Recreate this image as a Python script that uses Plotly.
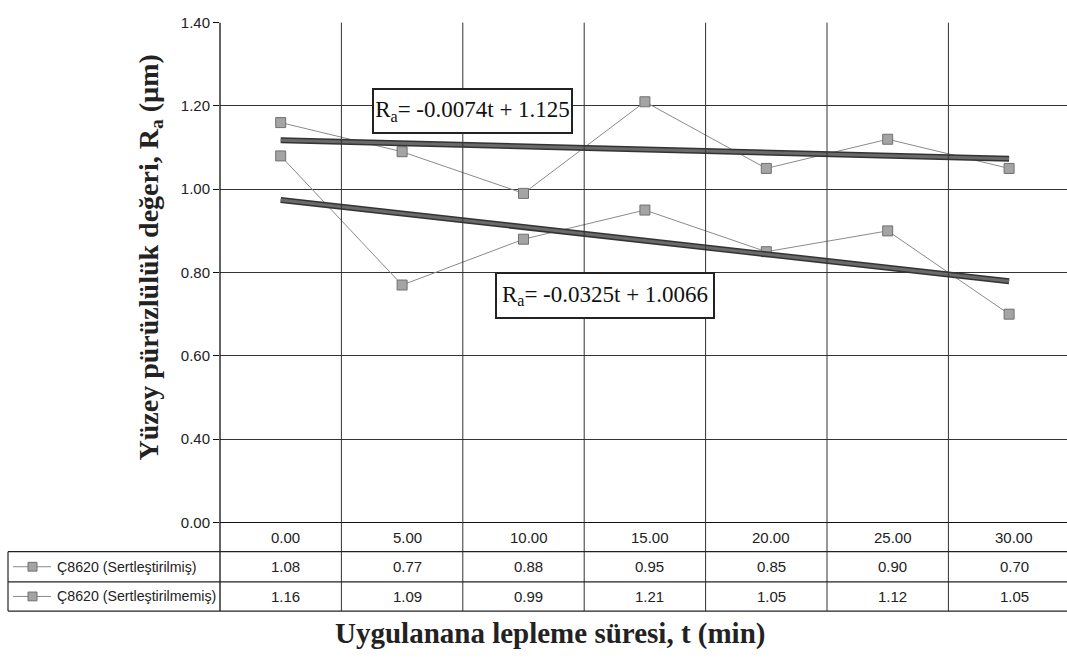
import plotly.graph_objects as go

# ---------------- data ----------------
t_labels = ["0.00", "5.00", "10.00", "15.00", "20.00", "25.00", "30.00"]
series_names = ["Ç8620 (Sertleştirilmiş)", "Ç8620 (Sertleştirilmemiş)"]
hardened = [1.08, 0.77, 0.88, 0.95, 0.85, 0.90, 0.70]
unhardened = [1.16, 1.09, 0.99, 1.21, 1.05, 1.12, 1.05]
y_tick_vals = [0.2, 0.4, 0.6, 0.8, 1.0, 1.2, 1.4]
y_tick_labels = ["0.00", "0.40", "0.60", "0.80", "1.00", "1.20", "1.40"]
# trend line equations (t = point index 1..n)
trend_hard = (-0.0325, 1.0066)
trend_unhard = (-0.0074, 1.125)
eq_hard = "R<sub>a</sub>= -0.0325t + 1.0066"
eq_unhard = "R<sub>a</sub>= -0.0074t + 1.125"

# ---------------- layout helpers ----------------
W, H = 1067, 659
def px(x): return x / W
def py(y): return 1 - y / H

X0 = 220          # left of plot area (px)
COLW = 121.4      # category column width (px)
Y_TOP, Y_BOT = 14, 527
ROW1, ROW2, ROW3 = 557, 588, 618
TBL_LEFT = 8

n = len(t_labels)
xi = list(range(n))

fig = go.Figure()

line_col = "#8a8a8a"
mk = dict(symbol="square", size=10, color="#a4a4a4", line=dict(color="#707070", width=1))

for vals, name in [(hardened, series_names[0]), (unhardened, series_names[1])]:
    fig.add_trace(go.Scatter(x=xi, y=vals, mode="lines+markers", name=name,
                             line=dict(color=line_col, width=1),
                             marker=mk, showlegend=False))

for (m, b) in [trend_unhard, trend_hard]:
    ty = [m * (i + 1) + b for i in xi]
    fig.add_trace(go.Scatter(x=[xi[0], xi[-1]], y=[ty[0], ty[-1]], mode="lines",
                             line=dict(color="#333333", width=6), showlegend=False))
    fig.add_trace(go.Scatter(x=[xi[0], xi[-1]], y=[ty[0], ty[-1]], mode="lines",
                             line=dict(color="#6a6a6a", width=3), showlegend=False))

shapes = []
grid = "#333333"
# vertical category boundaries through plot and table
for k in range(n - 1):
    shapes.append(dict(type="line", xref="x", yref="paper", x0=k + 0.5, x1=k + 0.5,
                       y0=py(ROW3), y1=py(Y_TOP), line=dict(color=grid, width=1)))
# y-axis line extended down through table
shapes.append(dict(type="line", xref="paper", yref="paper", x0=px(X0), x1=px(X0),
                   y0=py(ROW3), y1=py(Y_TOP), line=dict(color="#111", width=1.3)))
# table horizontal lines
for yy in [ROW1, ROW2, ROW3]:
    shapes.append(dict(type="line", xref="paper", yref="paper", x0=px(TBL_LEFT), x1=1,
                       y0=py(yy), y1=py(yy), line=dict(color="#222", width=1.2)))
shapes.append(dict(type="line", xref="paper", yref="paper", x0=px(TBL_LEFT), x1=px(TBL_LEFT),
                   y0=py(ROW3), y1=py(ROW1), line=dict(color="#222", width=1.2)))
# legend keys
for yy in [(ROW1 + ROW2) / 2, (ROW2 + ROW3) / 2]:
    shapes.append(dict(type="line", xref="paper", yref="paper", x0=px(13), x1=px(51),
                       y0=py(yy), y1=py(yy), line=dict(color=line_col, width=1)))
    shapes.append(dict(type="rect", xref="paper", yref="paper", x0=px(28), x1=px(37),
                       y0=py(yy + 4.5), y1=py(yy - 4.5), fillcolor="#a4a4a4",
                       line=dict(color="#707070", width=1)))

annotations = []
tfont = dict(family="Liberation Sans, Arial", size=15, color="#222")
lfont = dict(family="Liberation Sans, Arial", size=14.2, color="#222")
def ann(**kw):
    kw.setdefault("showarrow", False)
    kw.setdefault("xanchor", "center")
    kw.setdefault("yanchor", "middle")
    annotations.append(kw)

for i, lab in enumerate(t_labels):
    ann(x=i, y=py((Y_BOT + ROW1) / 2), xref="x", yref="paper", text=lab, font=tfont, xshift=5)
    ann(x=i, y=py((ROW1 + ROW2) / 2), xref="x", yref="paper",
        text=f"{hardened[i]:.2f}", font=tfont, xshift=5)
    ann(x=i, y=py((ROW2 + ROW3) / 2), xref="x", yref="paper",
        text=f"{unhardened[i]:.2f}", font=tfont, xshift=5)
for j, yy in enumerate([(ROW1 + ROW2) / 2, (ROW2 + ROW3) / 2]):
    ann(x=px(55), y=py(yy), xref="paper", yref="paper", xanchor="left",
        text=series_names[j], font=lfont)

# equation boxes
eqfont = dict(family="Liberation Serif, Times New Roman", size=23, color="#111")
ann(x=px(472.5), y=py(105), xref="paper", yref="paper", text=eq_unhard,
    font=eqfont, bgcolor="white", bordercolor="#222",
    borderwidth=2, borderpad=0, width=197, height=42)
ann(x=px(605), y=py(294.5), xref="paper", yref="paper", text=eq_hard,
    font=eqfont, bgcolor="white", bordercolor="#222",
    borderwidth=2, borderpad=0, width=216, height=43)

# axis titles
ann(x=px(150), y=py(255), xref="paper", yref="paper",
    text="<b>Yüzey pürüzlülük değeri, R<sub>a</sub> (µm)</b>", textangle=-90,
    font=dict(family="Liberation Serif, Times New Roman", size=28, color="#222"))
ann(x=px(550), y=py(641), xref="paper", yref="paper",
    text="<b>Uygulanana lepleme süresi, t (min)</b>",
    font=dict(family="Liberation Serif, Times New Roman", size=29, color="#222"))

fig.update_layout(
    width=W, height=H,
    margin=dict(l=0, r=0, t=0, b=0),
    paper_bgcolor="white", plot_bgcolor="white",
    xaxis=dict(domain=[px(X0), 1], range=[-0.5, -0.5 + (W - X0) / COLW],
               showticklabels=False, showgrid=False, zeroline=False,
               showline=True, linecolor="#111", linewidth=1.2, ticks=""),
    yaxis=dict(domain=[py(Y_BOT), py(Y_TOP)], range=[0.2, 1.4],
               tickvals=y_tick_vals, ticktext=y_tick_labels,
               showgrid=True, gridcolor=grid, gridwidth=1, zeroline=False,
               showline=False, ticks="outside", ticklen=6, tickcolor="#111",
               tickfont=dict(family="Liberation Sans, Arial", size=15, color="#222")),
    shapes=shapes, annotations=annotations,
)

fig.write_html("out.html")
